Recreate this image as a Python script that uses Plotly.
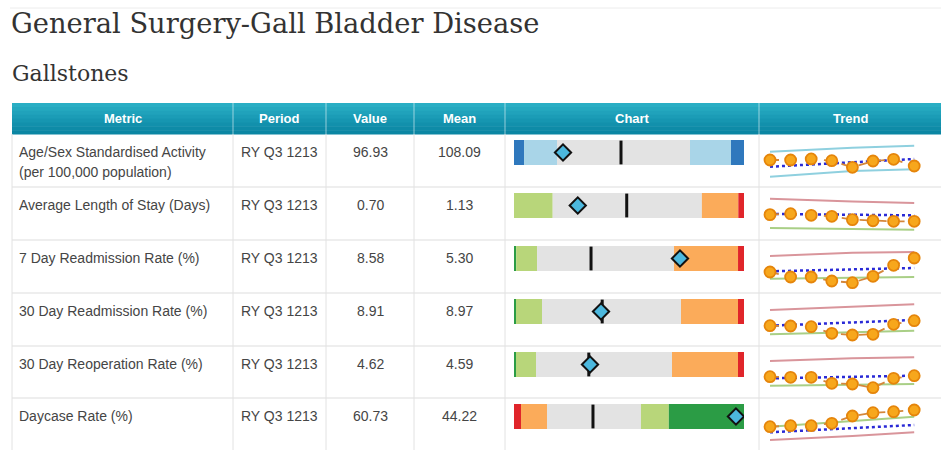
import plotly.graph_objects as go

# ---------------- data ----------------
title_text = "General Surgery-Gall Bladder Disease"
subtitle_text = "Gallstones"
columns = ["Metric", "Period", "Value", "Mean", "Chart", "Trend"]
metrics = [
    ["Age/Sex Standardised Activity", "(per 100,000 population)"],
    ["Average Length of Stay (Days)"],
    ["7 Day Readmission Rate (%)"],
    ["30 Day Readmission Rate (%)"],
    ["30 Day Reoperation Rate (%)"],
    ["Daycase Rate (%)"],
]
periods = ["RY Q3 1213"] * 6
values = [96.93, 0.70, 8.58, 8.91, 4.62, 60.73]
means = [108.09, 1.13, 5.30, 8.97, 4.59, 44.22]

# bullet-chart band edges (metric units), per row
band_edges = [
    [87.50, 89.43, 95.78, 121.37, 129.26, 131.76],
    [0.14, 0.48, 1.79, 2.11, 2.16],
    [2.46, 2.54, 3.31, 8.36, 10.72, 10.94],
    [4.56, 4.66, 5.96, 12.91, 15.76, 16.06],
    [2.72, 2.77, 3.27, 6.67, 8.32, 8.47],
    [35.10, 35.91, 38.91, 49.76, 52.98, 61.66],
]

# trend sparklines (8 periods)
trend_periods = [0, 1, 2, 3, 4, 5, 6, 7]
trend_values = [
    [108.1, 108.1, 110.0, 106.8, 94.5, 106.2, 109.4, 96.9],
    [1.18, 1.25, 1.13, 1.06, 0.82, 0.74, 0.70, 0.70],
    [3.99, 2.35, 2.35, 1.04, 0.48, 2.58, 6.19, 8.58],
    [7.41, 7.32, 7.11, 5.13, 4.62, 4.83, 7.83, 8.91],
    [4.42, 4.30, 4.30, 3.10, 2.96, 2.22, 4.10, 4.62],
    [42.36, 43.46, 43.46, 46.10, 54.13, 57.76, 58.86, 60.73],
]
trend_line_periods = [0, 7]
trend_line = [
    [95.6, 110.0],
    [1.23, 1.13],
    [4.22, 5.30],
    [7.41, 9.12],
    [4.10, 4.62],
    [36.20, 44.23],
]
limit_periods = [0, 4, 7]
limit_top = [
    [123.5, 130.9, 134.7],
    [2.33, 2.12, 2.02],
    [9.24, 10.32, 10.55],
    [12.12, 13.11, 13.83],
    [7.56, 8.10, 8.30],
    [42.36, 48.6, 53.36],
]
limit_bottom = [
    [77.0, 87.6, 90.8],
    [0.22, 0.15, 0.10],
    [1.79, 2.05, 2.35],
    [4.83, 5.37, 5.91],
    [2.62, 2.80, 2.96],
    [27.73, 32.1, 36.20],
]

# ---------------- styles / layout ----------------
W, H = 941, 450
DBLUE, LBLUE, GREY = "#2f78bd", "#a9d5e8", "#e3e3e3"
LGREEN, DGREEN, ORANGE, RED = "#b8d67a", "#2b9c45", "#fbab5a", "#e0252a"
band_colors = [
    [DBLUE, LBLUE, GREY, LBLUE, DBLUE],
    [LGREEN, GREY, ORANGE, RED],
    [DGREEN, LGREEN, GREY, ORANGE, RED],
    [DGREEN, LGREEN, GREY, ORANGE, RED],
    [DGREEN, LGREEN, GREY, ORANGE, RED],
    [RED, ORANGE, GREY, LGREEN, DGREEN],
]
LIM_BLUE, LIM_RED, LIM_GREEN = "#8fd0df", "#d9959b", "#a9cf86"
limit_colors = [
    (LIM_BLUE, LIM_BLUE),
    (LIM_RED, LIM_GREEN),
    (LIM_RED, LIM_GREEN),
    (LIM_RED, LIM_GREEN),
    (LIM_RED, LIM_GREEN),
    (LIM_GREEN, LIM_RED),
]
trend_ranges = [
    [57.87, 156.45],
    [-0.646, 3.17],
    [-2.90, 14.48],
    [1.32, 17.22],
    [0.16, 10.56],
    [16.73, 73.93],
]

row_tops = [134, 187, 240, 293, 346, 398]
row_bots = [187, 240, 293, 346, 398, 450]
col_edges = [12, 233, 326, 414, 505, 759, 941]
header_top, header_bot = 103, 134
bar_x0, bar_x1 = 514, 744
trend_x0, trend_x1 = 759.7, 924.5


def px(x):
    return x / W


def py(y):
    return 1 - y / H


fig = go.Figure()
layout_axes = {}
shapes = []
annotations = []

for i in range(6):
    bx = 2 * i + 1
    tx = 2 * i + 2
    # --- bullet chart ---
    edges = band_edges[i]
    starts = edges[:-1]
    widths = [b - a for a, b in zip(edges[:-1], edges[1:])]
    n = len(widths)
    xa, ya = f"x{bx}", f"y{bx}"
    fig.add_trace(go.Bar(
        x=widths, y=[0] * n, base=starts, orientation="h", width=[1] * n,
        marker=dict(color=band_colors[i], line=dict(width=0)),
        xaxis=xa, yaxis=ya, hoverinfo="skip", showlegend=False))
    fig.add_trace(go.Scatter(
        x=[means[i]], y=[0], mode="markers",
        marker=dict(symbol="line-ns", size=17, line=dict(width=3, color="#111111")),
        xaxis=xa, yaxis=ya, hoverinfo="skip", showlegend=False))
    fig.add_trace(go.Scatter(
        x=[values[i]], y=[0], mode="markers",
        marker=dict(symbol="diamond", size=12.5, color="#4cb8de",
                    line=dict(width=2, color="#111111")),
        xaxis=xa, yaxis=ya, hoverinfo="skip", showlegend=False))
    top = row_tops[i] + 6
    layout_axes[f"xaxis{bx}"] = dict(domain=[px(bar_x0), px(bar_x1)], range=[edges[0], edges[-1]],
                                     visible=False, anchor=ya, fixedrange=True)
    layout_axes[f"yaxis{bx}"] = dict(domain=[py(top + 25), py(top)], range=[-0.5, 0.5],
                                     visible=False, anchor=xa, fixedrange=True)

    # --- trend sparkline ---
    xa, ya = f"x{tx}", f"y{tx}"
    ctop, cbot = limit_colors[i]
    fig.add_trace(go.Scatter(x=limit_periods, y=limit_top[i], mode="lines",
                             line=dict(color=ctop, width=2),
                             xaxis=xa, yaxis=ya, hoverinfo="skip", showlegend=False))
    fig.add_trace(go.Scatter(x=limit_periods, y=limit_bottom[i], mode="lines",
                             line=dict(color=cbot, width=2),
                             xaxis=xa, yaxis=ya, hoverinfo="skip", showlegend=False))
    fig.add_trace(go.Scatter(x=trend_line_periods, y=trend_line[i], mode="lines",
                             line=dict(color="#2a2ad6", width=2.5, dash="dot"),
                             xaxis=xa, yaxis=ya, hoverinfo="skip", showlegend=False))
    fig.add_trace(go.Scatter(x=trend_periods, y=trend_values[i], mode="lines+markers",
                             line=dict(color="#d5873a", width=1.8, dash="dash"),
                             marker=dict(size=11, color="#f7a71c",
                                         line=dict(width=1.8, color="#e5850b")),
                             xaxis=xa, yaxis=ya, hoverinfo="skip", showlegend=False))
    layout_axes[f"xaxis{tx}"] = dict(domain=[px(trend_x0), px(trend_x1)], range=[-0.5, 7.5],
                                     visible=False, anchor=ya, fixedrange=True)
    layout_axes[f"yaxis{tx}"] = dict(domain=[py(row_bots[i]), py(row_tops[i])],
                                     range=trend_ranges[i],
                                     visible=False, anchor=xa, fixedrange=True)

# ---------- table shapes ----------
shapes.append(dict(type="line", xref="paper", yref="paper", x0=px(10), x1=1, y0=py(8), y1=py(8),
                   line=dict(color="#ececec", width=1), layer="below"))
grad = ["#2aaec4", "#25a8bf", "#20a2bb", "#1b9cb6", "#1696b1", "#1290ac", "#0e8ba7", "#0b86a3"]
nstrip = len(grad)
hh = (header_bot - header_top) / nstrip
for k, c in enumerate(grad):
    y0 = header_top + k * hh
    shapes.append(dict(type="rect", xref="paper", yref="paper", x0=px(col_edges[0]), x1=1,
                       y0=py(y0 + hh + 0.5), y1=py(y0), fillcolor=c, line=dict(width=0),
                       layer="below"))
for xc in col_edges[1:-1]:
    shapes.append(dict(type="line", xref="paper", yref="paper", x0=px(xc), x1=px(xc),
                       y0=py(header_bot), y1=py(header_top),
                       line=dict(color="rgba(255,255,255,0.55)", width=1), layer="below"))
for yb in row_bots[:-1]:
    shapes.append(dict(type="line", xref="paper", yref="paper", x0=px(col_edges[0]), x1=1,
                       y0=py(yb), y1=py(yb), line=dict(color="#dddddd", width=1), layer="below"))
for xc in col_edges[:-1]:
    shapes.append(dict(type="line", xref="paper", yref="paper", x0=px(xc), x1=px(xc),
                       y0=0, y1=py(header_bot), line=dict(color="#e2e2e2", width=1), layer="below"))

# ---------- text ----------
annotations.append(dict(text=title_text, x=px(9), y=py(23), xref="paper", yref="paper",
                        xanchor="left", yanchor="middle", showarrow=False,
                        font=dict(family="DejaVu Serif", size=27.3, color="#333333")))
annotations.append(dict(text=subtitle_text, x=px(10), y=py(73), xref="paper", yref="paper",
                        xanchor="left", yanchor="middle", showarrow=False,
                        font=dict(family="DejaVu Serif", size=22, color="#333333")))
for j, name in enumerate(columns):
    cx = (col_edges[j] + col_edges[j + 1]) / 2
    annotations.append(dict(text=f"<b>{name}</b>", x=px(cx), y=py(118.5), xref="paper",
                            yref="paper", xanchor="center", yanchor="middle", showarrow=False,
                            font=dict(family="Liberation Sans", size=13, color="#ffffff")))
body_font = dict(family="Liberation Sans", size=14, color="#454545")
for i in range(6):
    yc = row_tops[i] + 18
    for k, line in enumerate(metrics[i]):
        annotations.append(dict(text=line, x=px(17), y=py(yc + 19.5 * k), xref="paper",
                                yref="paper", xanchor="left", yanchor="middle",
                                showarrow=False, font=body_font))
    for j, txt in ((1, periods[i]), (2, f"{values[i]:.2f}"), (3, f"{means[i]:.2f}")):
        cx = (col_edges[j] + col_edges[j + 1]) / 2
        annotations.append(dict(text=txt, x=px(cx), y=py(yc), xref="paper", yref="paper",
                                xanchor="center", yanchor="middle", showarrow=False,
                                font=body_font))

fig.update_layout(
    width=W, height=H, margin=dict(l=0, r=0, t=0, b=0),
    paper_bgcolor="#ffffff", plot_bgcolor="rgba(0,0,0,0)",
    barmode="overlay", showlegend=False,
    shapes=shapes, annotations=annotations,
    **layout_axes,
)
fig.write_html("out.html", config={"displayModeBar": False},
               post_script="document.body.style.margin='0';document.body.style.overflow='hidden';")
